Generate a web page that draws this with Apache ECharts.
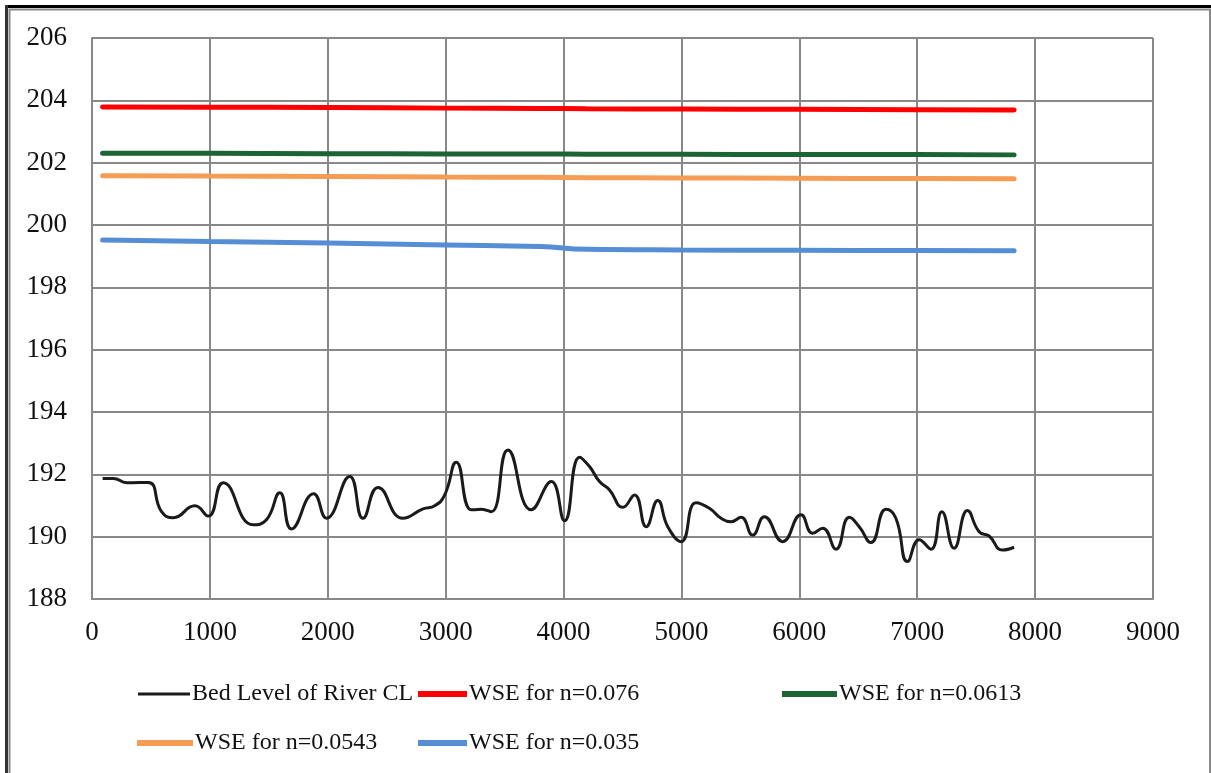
<!DOCTYPE html>
<html><head><meta charset="utf-8">
<script src="https://cdn.jsdelivr.net/npm/echarts@6/dist/echarts.min.js"></script>
<style>html,body{margin:0;padding:0;background:#fff}#c{width:1211px;height:773px}</style>
</head><body><div id="c"></div>
<script>
const xTicks = [0,1000,2000,3000,4000,5000,6000,7000,8000,9000];
const yTicks = [188,190,192,194,196,198,200,202,204,206];

const bedX = [90,181,294,477,590,689,873,986,1113,1367,1480,1593,1692,1880,1989,2186,2299,2426,2638,2808,2907,2992,3090,3218,3302,3387,3528,3726,3896,4008,4136,4220,4305,4390,4503,4602,4701,4799,4884,4997,5124,5237,5336,5421,5506,5604,5703,5859,6014,6113,6198,6311,6424,6508,6607,6735,6819,6918,7017,7116,7209,7313,7426,7525,7610,7723,7822];
const bedY = [191.87,191.87,191.73,191.74,190.8,190.61,190.99,190.66,191.73,190.38,190.54,191.41,190.25,191.38,190.59,191.93,190.59,191.58,190.59,190.89,190.99,191.34,192.39,190.86,190.88,190.8,192.78,190.86,191.77,190.51,192.55,192.25,191.77,191.5,190.94,191.34,190.32,191.16,190.32,189.84,191.09,190.91,190.59,190.48,190.62,190.05,190.64,189.84,190.7,190.11,190.27,189.6,190.62,190.32,189.81,190.88,190.59,189.2,189.9,189.6,190.8,189.63,190.84,190.16,190.02,189.57,189.66];

const wseX = [90,1000,2000,3000,3800,4200,5000,6000,7000,7822];
const wse076 = [203.79,203.78,203.77,203.75,203.74,203.73,203.72,203.71,203.70,203.69];
const wse0613 = [202.30,202.30,202.29,202.28,202.28,202.27,202.27,202.26,202.26,202.25];
const wse0543 = [201.58,201.57,201.56,201.54,201.53,201.52,201.51,201.50,201.49,201.48];
const wse035 = [199.52,199.47,199.42,199.36,199.31,199.22,199.20,199.19,199.18,199.17];

const names = ['Bed Level of River CL','WSE for n=0.076','WSE for n=0.0613','WSE for n=0.0543','WSE for n=0.035'];
const colors = ['#1a1a1a','#ff0000','#1d6434','#f59c55','#558ed5'];

function pairs(xs, ys){ return xs.map((x,i)=>[x, ys[i]]); }

const chart = echarts.init(document.getElementById('c'), null, {renderer:'canvas'});
const font = '"Liberation Serif", "Times New Roman", serif';
const legendPos = [
  {left:133, top:677, w:52}, {left:413, top:677, w:49}, {left:777, top:677, w:55},
  {left:132, top:726, w:56}, {left:413, top:726, w:49}
];
chart.setOption({
  backgroundColor:'#fff',
  animation:false,
  textStyle:{fontFamily:font},
  grid:{left:92,right:58,top:38,bottom:174},
  xAxis:{type:'value',min:0,max:9000,interval:1000,
    axisLine:{show:true,lineStyle:{color:'#888',width:2}},
    axisTick:{show:false},
    splitLine:{show:true,lineStyle:{color:'#888',width:2}},
    axisLabel:{color:'#111',fontSize:27,fontFamily:font,margin:20,formatter:v=>String(v)}},
  yAxis:{type:'value',min:188,max:206,interval:2,
    axisLine:{show:true,lineStyle:{color:'#888',width:2}},
    axisTick:{show:false},
    splitLine:{show:true,lineStyle:{color:'#888',width:2}},
    axisLabel:{color:'#111',fontSize:27,fontFamily:font,margin:25,formatter:v=>String(v)}},
  legend: names.map((n,i)=>({data:[n], left:legendPos[i].left, top:legendPos[i].top,
    icon:'rect', itemWidth:legendPos[i].w, itemHeight: i===0?3:6, itemGap:4,
    textStyle:{fontSize:24,fontFamily:font,color:'#111',padding:[0,0,0,-3]}})),
  series:[
    {name:names[0],type:'line',data:pairs(bedX,bedY),smooth:0.5,showSymbol:false,
      lineStyle:{color:colors[0],width:3},itemStyle:{color:colors[0]},z:5},
    {name:names[1],type:'line',data:pairs(wseX,wse076),smooth:true,showSymbol:false,
      lineStyle:{color:colors[1],width:5,cap:'round'},itemStyle:{color:colors[1]}},
    {name:names[2],type:'line',data:pairs(wseX,wse0613),smooth:true,showSymbol:false,
      lineStyle:{color:colors[2],width:5,cap:'round'},itemStyle:{color:colors[2]}},
    {name:names[3],type:'line',data:pairs(wseX,wse0543),smooth:true,showSymbol:false,
      lineStyle:{color:colors[3],width:5,cap:'round'},itemStyle:{color:colors[3]}},
    {name:names[4],type:'line',data:pairs(wseX,wse035),smooth:true,showSymbol:false,
      lineStyle:{color:colors[4],width:5,cap:'round'},itemStyle:{color:colors[4]}}
  ],
  graphic:[
    {type:'polyline',shape:{points:[[9.5,773],[9.5,9.5],[1210,9.5],[1210,773]]},style:{fill:'none',stroke:'#888',lineWidth:2},silent:true},
    {type:'line',shape:{x1:5,y1:6.5,x2:1211,y2:6.5},style:{stroke:'#000',lineWidth:3},silent:true},
    {type:'line',shape:{x1:6.5,y1:5,x2:6.5,y2:773},style:{stroke:'#333',lineWidth:3},silent:true}
  ]
});
</script></body></html>
